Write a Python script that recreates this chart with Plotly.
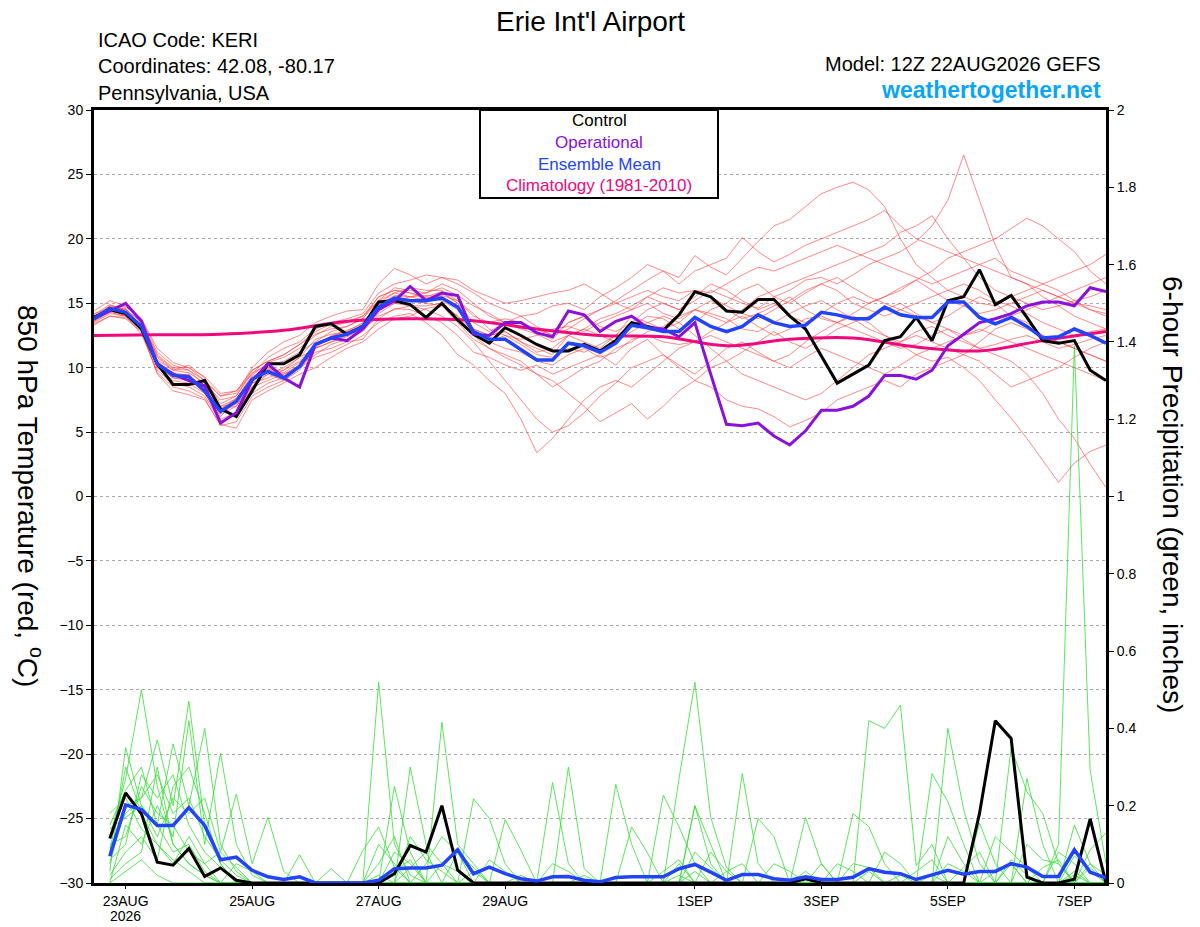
import pandas as pd
import plotly.graph_objects as go

# 6-hourly valid times: temperature from 12Z 22AUG, precip totals from 18Z 22AUG
t_times = pd.date_range("2026-08-22 12:00", "2026-09-07 12:00", freq="6h")
p_times = t_times[1:]
clim_times = pd.date_range("2026-08-22 12:00", "2026-09-07 12:00", freq="24h")

# 850 hPa temperature (C)
control_t = [13.9, 14.5, 14.2, 13.0, 10.3, 8.7, 8.7, 9.0, 6.8, 6.2,
             8.2, 10.3, 10.3, 11.0, 13.2, 13.4, 12.6, 13.2, 15.1, 15.2,
             14.9, 13.9, 15.0, 13.7, 12.6, 11.9, 13.1, 12.5, 11.8, 11.3,
             11.3, 11.8, 11.3, 12.1, 13.5, 13.2, 12.9, 14.1, 15.9, 15.5,
             14.4, 14.3, 15.3, 15.3, 14.0, 13.0, 10.9, 8.8, 9.5, 10.2,
             12.1, 12.4, 13.9, 12.1, 15.2, 15.5, 17.6, 14.9, 15.6, 13.9,
             12.1, 11.9, 12.1, 9.8, 9.0]
oper_t = [13.8, 14.4, 15.0, 13.6, 10.3, 9.5, 9.0, 8.6, 5.7, 6.5,
          9.0, 10.3, 9.2, 8.5, 11.8, 12.3, 12.1, 13.0, 14.5, 15.2,
          16.3, 15.2, 15.8, 15.6, 12.6, 12.5, 13.5, 13.5, 12.7, 12.4,
          14.4, 14.1, 12.8, 13.6, 14.0, 13.1, 13.0, 12.4, 13.5, 9.5,
          5.6, 5.5, 5.7, 4.7, 4.0, 5.1, 6.7, 6.7, 7.0, 7.8,
          9.4, 9.4, 9.1, 9.8, 11.7, 12.6, 13.5, 13.8, 14.2, 14.8,
          15.1, 15.1, 14.8, 16.2, 15.9]
mean_t = [13.8, 14.6, 14.3, 13.2, 10.3, 9.4, 9.3, 8.2, 6.6, 7.4,
          9.1, 9.7, 9.2, 10.1, 11.8, 12.3, 12.6, 13.2, 14.7, 15.4,
          15.2, 15.2, 15.4, 14.7, 12.8, 12.2, 12.2, 11.4, 10.6, 10.6,
          11.9, 11.7, 11.2, 11.9, 13.3, 13.1, 12.8, 12.8, 13.9, 13.2,
          12.8, 13.2, 14.1, 13.5, 13.2, 13.3, 14.3, 14.1, 13.8, 13.8,
          14.7, 14.1, 13.9, 13.9, 15.1, 15.1, 13.9, 13.4, 13.9, 13.2,
          12.3, 12.4, 13.0, 12.5, 11.9]
clim_t = [12.5, 12.55, 12.6, 12.9, 13.6, 13.8, 13.65, 13.0, 12.5,
          12.4, 11.7, 12.2, 12.3, 11.6, 11.3, 12.1, 12.8]

members_t = [
    [14.0, 14.8, 14.5, 13.5, 10.8, 9.8, 9.6, 8.8, 7.5, 7.8,
     9.8, 10.5, 11.0, 11.8, 12.6, 13.0, 13.2, 13.8, 15.5, 16.0,
     15.8, 15.5, 15.9, 15.0, 13.5, 12.8, 13.5, 14.0, 13.2, 12.5,
     13.0, 13.8, 14.5, 15.2, 16.0, 16.8, 17.5, 17.0, 18.7, 17.8,
     17.2, 18.5, 19.8, 21.0, 21.5, 22.5, 23.5, 24.0, 24.4, 23.8,
     22.5, 20.0, 18.0, 17.0, 16.0, 15.5, 15.0, 14.8, 15.5, 16.0,
     16.5, 16.0, 15.2, 14.5, 14.0],
    [13.6, 14.3, 14.0, 13.0, 10.0, 9.0, 8.8, 8.0, 6.0, 6.5,
     8.5, 9.5, 10.0, 10.8, 11.5, 12.0, 12.5, 13.0, 14.5, 15.2,
     15.5, 15.8, 16.2, 15.6, 14.8, 14.2, 13.5, 13.0, 12.6, 12.0,
     12.5, 13.0, 13.8, 14.2, 14.8, 15.5, 15.0, 14.5, 15.2, 16.0,
     15.5, 15.0, 14.6, 15.5, 16.0, 16.8, 17.0, 16.5, 17.2, 18.0,
     18.5, 19.0, 19.8, 21.0, 23.0, 26.5, 23.0, 19.5, 17.0, 16.5,
     15.5, 14.8, 14.0, 13.5, 13.0],
    [13.4, 14.0, 13.8, 12.8, 9.6, 8.5, 8.2, 7.6, 5.5, 5.8,
     7.8, 8.5, 9.0, 10.0, 10.8, 11.2, 11.8, 12.5, 13.5, 14.0,
     14.2, 13.5, 12.5, 11.0, 10.2, 9.0, 8.0, 6.0, 3.4, 4.5,
     6.0, 7.5, 8.5, 9.0, 8.5, 9.5, 10.5, 11.5, 12.0, 12.8,
     13.5, 14.0, 13.2, 12.5, 13.0, 13.8, 14.0, 13.5, 13.0, 12.5,
     12.0, 11.5, 11.8, 12.5, 13.0, 12.2, 11.5, 11.0, 10.5, 9.5,
     8.0, 6.0, 4.5, 2.5, 0.7],
    [14.2, 14.6, 14.2, 13.0, 10.2, 9.2, 9.0, 8.2, 6.8, 7.0,
     8.8, 9.2, 9.8, 10.5, 11.8, 12.2, 12.6, 13.0, 14.0, 14.5,
     14.8, 14.5, 14.0, 13.2, 12.0, 10.5, 9.0, 7.5, 6.0, 5.0,
     5.5, 6.5, 7.8, 8.8, 10.0, 10.5, 11.0, 10.2, 9.5, 10.5,
     11.5, 12.0, 11.2, 10.5, 11.0, 12.0, 12.8, 13.5, 14.0, 13.5,
     12.5, 11.8, 11.0, 10.5, 10.8, 10.0, 9.0, 7.5, 6.1, 4.5,
     2.8, 1.1, 2.6, 3.5, 4.0],
    [14.0, 14.5, 14.8, 13.8, 11.2, 10.2, 9.8, 9.0, 7.8, 8.2,
     9.5, 10.8, 11.5, 12.0, 13.0, 13.5, 13.8, 14.2, 15.8, 16.5,
     16.8, 17.2, 17.0, 16.5, 15.8, 15.0, 14.5, 14.0, 14.2, 14.8,
     15.0, 14.5, 15.5, 16.2, 17.0, 18.0, 17.5, 16.5, 17.5, 18.0,
     18.5, 20.1, 19.0, 18.2, 18.8, 19.5, 20.0, 20.5, 21.0, 21.5,
     22.2, 21.0, 20.0, 19.5, 19.0, 18.5, 18.0, 18.5, 17.5, 17.0,
     16.5, 17.0, 17.5, 18.0, 18.8],
    [13.8, 14.4, 14.2, 13.4, 10.5, 9.5, 9.2, 8.5, 7.0, 7.2,
     8.5, 9.0, 9.5, 10.2, 11.0, 11.8, 12.2, 12.8, 14.2, 15.0,
     15.2, 15.0, 14.8, 14.0, 12.5, 11.5, 11.0, 10.5, 9.5, 9.0,
     8.0, 7.0, 5.8, 6.5, 7.2, 6.0, 7.0, 8.2, 9.0, 10.0,
     10.5, 11.2, 12.0, 12.8, 12.0, 11.5, 12.2, 13.0, 13.5, 14.0,
     14.5, 15.0, 14.2, 13.5, 14.0, 14.8, 15.5, 15.0, 14.0, 13.5,
     12.5, 12.0, 11.5, 11.0, 10.5],
    [13.7, 14.5, 14.6, 13.2, 10.0, 9.4, 9.5, 8.0, 6.2, 7.5,
     9.2, 10.0, 9.5, 10.0, 11.5, 12.5, 12.8, 13.5, 15.0, 15.8,
     15.5, 15.2, 15.8, 15.0, 13.0, 12.5, 12.8, 12.0, 11.5, 11.0,
     12.5, 12.0, 11.5, 12.5, 14.0, 13.5, 13.0, 13.5, 14.5, 14.0,
     13.5, 14.5, 15.5, 16.0, 16.5, 17.0, 17.5, 18.0, 18.5, 19.0,
     19.5, 20.5, 21.0, 21.8, 20.0, 18.5, 17.0, 16.0, 15.5, 15.0,
     14.5, 14.8, 15.2, 15.5, 16.0],
    [14.1, 14.9, 14.4, 13.1, 10.6, 9.8, 10.2, 9.2, 7.2, 7.8,
     9.6, 10.2, 10.5, 11.2, 12.0, 12.8, 13.2, 13.8, 15.2, 16.2,
     16.0, 15.8, 16.5, 16.0, 15.0, 14.0, 13.5, 13.2, 12.8, 12.2,
     13.5, 14.0, 13.2, 12.8, 13.5, 14.5, 15.0, 14.5, 15.5, 16.5,
     16.0, 15.2, 14.5, 15.0, 14.0, 13.5, 14.2, 15.0, 15.5, 15.0,
     15.5, 16.0, 16.8, 17.5, 18.5, 19.0, 19.5, 20.0, 20.8, 21.6,
     21.0, 20.0, 19.0, 17.5, 16.5],
    [13.5, 14.2, 14.0, 12.6, 9.8, 8.8, 8.5, 7.8, 5.8, 6.4,
     8.0, 8.8, 9.2, 10.2, 11.2, 11.5, 12.0, 12.2, 13.8, 14.6,
     14.5, 14.0, 13.5, 12.5, 11.2, 10.8, 10.2, 9.8, 10.2, 9.5,
     10.0, 10.5, 11.0, 10.2, 11.5, 12.2, 11.0, 10.0, 9.0, 8.5,
     7.5, 7.0, 6.8, 6.2, 5.4, 5.9, 6.5, 7.5, 8.0, 8.5,
     9.0, 8.5, 9.5, 10.0, 10.5, 11.0, 10.5, 9.5, 8.5, 9.0,
     9.5, 10.0, 10.8, 11.5, 12.0],
    [13.9, 14.7, 14.3, 13.3, 10.4, 9.6, 9.0, 8.3, 6.5, 7.2,
     9.0, 9.8, 9.8, 10.8, 12.2, 12.6, 12.8, 13.2, 14.8, 15.5,
     15.2, 15.4, 15.2, 14.5, 12.5, 12.0, 12.5, 11.8, 11.0, 10.8,
     11.5, 11.2, 11.8, 12.5, 13.2, 14.0, 13.8, 13.0, 13.5, 14.5,
     15.0, 16.0, 16.5, 15.5, 15.0, 15.8, 16.5, 16.0, 15.0, 14.5,
     14.0, 14.5, 15.0, 15.5, 16.0, 16.5, 16.0, 15.2, 14.8, 14.2,
     13.5, 13.0, 12.5, 12.8, 13.0],
    [13.6, 14.4, 14.1, 13.0, 10.1, 9.2, 9.2, 8.0, 6.4, 7.0,
     8.8, 9.5, 9.0, 9.8, 11.5, 12.0, 12.4, 13.0, 14.5, 15.0,
     14.8, 14.8, 15.0, 14.0, 12.8, 12.0, 11.5, 11.2, 10.5, 10.2,
     11.0, 11.5, 10.8, 11.2, 12.2, 12.5, 12.0, 11.8, 12.0, 12.5,
     12.0, 11.5, 11.0, 10.5, 10.0, 10.8, 11.5, 11.0, 10.5, 10.0,
     9.5, 10.2, 11.0, 11.5, 12.0, 12.5, 13.0, 12.5, 12.0, 11.5,
     11.0, 10.5, 10.0, 9.5, 9.0],
    [14.4, 15.2, 14.8, 13.6, 11.0, 10.0, 10.0, 9.0, 7.8, 8.0,
     10.0, 11.2, 12.0, 12.5, 13.5, 14.0, 14.4, 14.5, 16.5, 17.7,
     17.2, 16.5, 17.0, 16.8, 16.0, 15.5, 15.0, 15.2, 15.5, 15.8,
     16.0, 16.5, 15.8, 15.0, 14.5, 15.5, 16.2, 15.8, 16.0, 15.5,
     14.8, 14.2, 13.8, 14.5, 15.2, 16.0, 16.5, 17.0, 16.2, 15.5,
     15.0, 14.5, 14.0, 13.5, 13.0, 12.5, 12.8, 13.5, 14.0, 14.5,
     15.0, 15.5, 16.0, 16.5, 17.0],
    [13.3, 14.0, 13.9, 12.9, 9.5, 8.2, 7.9, 7.5, 5.6, 5.3,
     7.5, 8.2, 8.8, 9.5, 10.0, 10.8, 11.5, 12.0, 13.0, 13.8,
     14.0, 14.6, 14.8, 13.5, 12.2, 11.5, 10.8, 10.2, 9.5, 8.5,
     9.2, 10.0, 10.5, 11.5, 12.0, 12.8, 13.2, 14.0, 14.5, 14.2,
     13.8, 13.0, 12.8, 13.5, 14.2, 14.8, 15.2, 14.5, 13.8, 13.0,
     12.5, 12.0, 12.8, 13.2, 12.5, 12.0, 11.5, 11.8, 12.2, 12.5,
     12.0, 11.5, 11.8, 12.2, 12.5],
    [13.9, 14.6, 14.5, 13.6, 10.9, 9.9, 9.8, 8.6, 7.0, 7.6,
     9.4, 10.4, 10.8, 11.5, 12.5, 13.2, 13.5, 14.0, 15.2, 15.8,
     16.2, 16.0, 16.0, 15.2, 14.0, 13.5, 13.8, 13.5, 13.0, 12.5,
     13.5, 14.0, 14.5, 15.0, 15.5, 16.0, 15.5, 15.2, 16.0, 15.8,
     16.5, 17.2, 17.8, 17.5, 18.0, 18.5, 19.0, 19.5, 19.0, 18.5,
     18.0, 17.5, 17.0, 16.5, 17.0, 17.5, 18.0, 17.5, 17.0, 16.5,
     16.0, 15.5, 15.0, 14.8, 14.5],
    [14.0, 14.5, 14.0, 13.2, 10.3, 9.6, 9.4, 8.4, 6.8, 7.6,
     9.3, 9.9, 9.6, 10.4, 11.7, 12.4, 12.9, 13.4, 14.9, 15.6,
     15.5, 15.6, 15.5, 14.8, 13.0, 12.5, 12.8, 12.0, 11.2, 11.5,
     12.5, 13.0, 12.5, 12.0, 12.8, 13.5, 14.0, 13.5, 12.5, 11.5,
     10.5, 9.5, 9.0, 8.5, 8.0, 7.5, 8.0, 9.0, 10.0, 11.0,
     11.5, 12.0, 12.5, 12.0, 11.5, 11.0, 12.0, 13.0, 13.5, 13.0,
     12.5, 12.0, 11.5, 11.0, 10.5],
    [13.8, 14.8, 14.7, 13.8, 11.5, 10.4, 10.0, 9.3, 8.0, 8.2,
     9.8, 10.5, 11.0, 11.8, 12.8, 13.4, 13.6, 14.0, 15.5, 16.0,
     15.8, 15.4, 15.6, 15.2, 14.2, 13.0, 12.5, 12.2, 12.5, 13.0,
     13.2, 12.8, 13.5, 14.0, 14.5, 15.0, 14.2, 13.8, 14.5, 15.2,
     14.5, 13.8, 14.2, 14.8, 15.5, 14.5, 13.8, 13.5, 14.2, 15.0,
     15.5, 16.2, 16.8, 16.0, 15.2, 14.8, 14.2, 14.5, 15.0, 15.5,
     16.0, 15.5, 15.0, 14.5, 14.2],
]

# 6-hour precipitation (inches)
control_p = [0.115, 0.233, 0.179, 0.054, 0.046, 0.089, 0.017, 0.039, 0.007, 0,
             0, 0, 0, 0, 0, 0, 0, 0, 0.024, 0.097,
             0.080, 0.200, 0.033, 0, 0, 0, 0, 0, 0, 0,
             0, 0, 0, 0, 0, 0, 0, 0, 0, 0,
             0, 0, 0, 0, 0.011, 0, 0, 0, 0, 0,
             0, 0, 0, 0, 0, 0.18, 0.42, 0.374, 0.015, 0,
             0, 0.01, 0.166, 0]
mean_p = [0.069, 0.202, 0.190, 0.149, 0.149, 0.195, 0.149, 0.060, 0.067, 0.033,
          0.016, 0.009, 0.016, 0, 0, 0, 0, 0.007, 0.037, 0.039,
          0.039, 0.046, 0.086, 0.024, 0.041, 0.024, 0.011, 0.005, 0.016, 0.017,
          0.007, 0.003, 0.014, 0.016, 0.016, 0.016, 0.037, 0.048, 0.028, 0.007,
          0.022, 0.022, 0.011, 0.007, 0.016, 0.009, 0.009, 0.015, 0.037, 0.028,
          0.024, 0.009, 0.021, 0.033, 0.023, 0.030, 0.030, 0.050, 0.041, 0.017,
          0.017, 0.086, 0.028, 0.013]

members_p = [
    [0.12, 0.27, 0.50, 0.25, 0.10, 0.05, 0.02, 0, 0, 0, 0, 0, 0, 0, 0, 0,
     0, 0.10, 0.05, 0, 0, 0, 0, 0, 0, 0, 0, 0, 0.26, 0.05, 0, 0,
     0, 0, 0, 0, 0, 0.20, 0.05, 0, 0, 0, 0, 0, 0, 0, 0, 0,
     0.42, 0.40, 0.46, 0.045, 0.10, 0, 0, 0, 0, 0.05, 0, 0, 0, 0.15, 0.05, 0],
    [0.05, 0.20, 0.22, 0.37, 0.20, 0.47, 0.15, 0.05, 0, 0, 0, 0, 0, 0, 0, 0,
     0, 0.52, 0.10, 0.02, 0, 0, 0, 0, 0, 0, 0, 0, 0, 0, 0, 0,
     0, 0, 0, 0, 0.27, 0.52, 0.17, 0.04, 0, 0, 0, 0, 0, 0, 0, 0,
     0, 0, 0, 0, 0.283, 0.21, 0.10, 0, 0, 0, 0, 0, 0.10, 1.39, 0.29, 0.05],
    [0.15, 0.24, 0.30, 0.15, 0.36, 0.20, 0.40, 0.10, 0.03, 0, 0, 0, 0, 0, 0, 0,
     0, 0, 0, 0.30, 0.10, 0.05, 0, 0, 0, 0, 0, 0, 0, 0, 0, 0,
     0.255, 0.10, 0, 0, 0, 0, 0, 0, 0, 0, 0, 0, 0.17, 0.05, 0, 0,
     0, 0, 0, 0, 0, 0.40, 0.19, 0.05, 0, 0, 0, 0, 0, 0, 0.086, 0.13],
    [0, 0.15, 0.10, 0.20, 0.12, 0.42, 0.10, 0.336, 0.10, 0.02, 0, 0, 0, 0, 0, 0,
     0, 0, 0, 0, 0, 0.416, 0.10, 0.05, 0, 0, 0, 0, 0, 0.30, 0.037, 0,
     0, 0, 0, 0, 0, 0, 0, 0, 0.283, 0.05, 0, 0, 0, 0, 0, 0.18,
     0.146, 0.05, 0, 0, 0, 0, 0, 0, 0, 0, 0.27, 0.10, 0, 0, 0, 0],
    [0.08, 0.30, 0.18, 0.10, 0.05, 0.12, 0.05, 0.08, 0.23, 0.05, 0.17, 0.03, 0, 0, 0, 0,
     0, 0, 0.25, 0.08, 0, 0, 0, 0.218, 0.167, 0.05, 0, 0, 0, 0, 0, 0,
     0, 0, 0, 0.227, 0.145, 0.05, 0, 0, 0, 0, 0, 0, 0, 0, 0, 0,
     0, 0, 0, 0, 0, 0, 0, 0, 0, 0.35, 0.236, 0.18, 0.05, 0, 0, 0],
    [0.10, 0.12, 0.25, 0.18, 0.15, 0.08, 0.05, 0, 0, 0, 0, 0, 0.073, 0, 0, 0,
     0, 0, 0, 0, 0.05, 0.12, 0.08, 0, 0, 0.164, 0.085, 0, 0, 0, 0, 0,
     0, 0, 0, 0, 0, 0.20, 0.10, 0, 0, 0.167, 0.12, 0, 0, 0, 0, 0,
     0, 0, 0, 0, 0, 0, 0, 0.155, 0.05, 0, 0, 0, 0, 0.07, 0.03, 0],
    [0.02, 0.08, 0.12, 0.06, 0.25, 0.30, 0.18, 0.05, 0, 0, 0, 0, 0, 0, 0, 0,
     0.084, 0.145, 0.04, 0, 0, 0, 0, 0, 0, 0, 0, 0, 0, 0, 0, 0,
     0, 0.145, 0.078, 0, 0, 0, 0, 0, 0, 0, 0, 0, 0, 0, 0.05, 0.03,
     0, 0, 0, 0, 0, 0.12, 0.05, 0, 0, 0, 0, 0, 0.08, 0.05, 0, 0],
    [0.18, 0.22, 0.14, 0.10, 0.06, 0.03, 0, 0, 0, 0, 0, 0, 0, 0, 0.037, 0,
     0, 0, 0, 0.12, 0.06, 0.03, 0, 0, 0, 0, 0, 0, 0.05, 0.03, 0, 0,
     0, 0, 0, 0, 0, 0, 0.08, 0.03, 0, 0, 0, 0, 0, 0, 0, 0,
     0, 0.08, 0.05, 0, 0, 0, 0, 0, 0.12, 0.08, 0.04, 0, 0, 0, 0.05, 0.02],
    [0.06, 0.10, 0.28, 0.22, 0.28, 0.15, 0.08, 0.04, 0, 0, 0, 0, 0, 0, 0, 0,
     0, 0, 0.08, 0.05, 0, 0, 0.08, 0.04, 0, 0, 0, 0, 0, 0, 0, 0,
     0, 0, 0, 0, 0.05, 0, 0, 0, 0, 0, 0.05, 0.03, 0, 0, 0, 0,
     0, 0, 0, 0.03, 0.06, 0, 0, 0, 0, 0, 0.10, 0.06, 0.05, 0, 0, 0],
    [0.03, 0.35, 0.20, 0.15, 0.08, 0.10, 0.03, 0, 0, 0, 0, 0, 0, 0, 0, 0,
     0, 0.05, 0.12, 0, 0, 0, 0, 0, 0.06, 0.03, 0, 0, 0, 0, 0, 0,
     0, 0, 0, 0, 0, 0.08, 0.04, 0, 0, 0, 0, 0, 0, 0.05, 0, 0,
     0, 0, 0, 0, 0, 0, 0.04, 0.08, 0, 0, 0, 0, 0, 0.03, 0, 0],
    [0.09, 0.18, 0.22, 0.28, 0.18, 0.22, 0.12, 0.06, 0.02, 0, 0, 0, 0, 0, 0, 0,
     0, 0, 0, 0.04, 0.08, 0, 0, 0, 0, 0, 0, 0, 0, 0, 0, 0,
     0, 0, 0, 0.03, 0.06, 0, 0, 0, 0, 0, 0, 0, 0, 0, 0, 0,
     0.03, 0, 0, 0, 0, 0.05, 0.03, 0, 0, 0, 0, 0.04, 0.06, 0, 0, 0],
    [0.01, 0.05, 0.08, 0.30, 0.10, 0.05, 0.02, 0, 0, 0, 0, 0, 0, 0, 0, 0,
     0, 0, 0, 0, 0, 0.05, 0.03, 0, 0, 0, 0, 0, 0, 0, 0.02, 0,
     0, 0, 0, 0, 0, 0, 0, 0.03, 0.05, 0, 0, 0, 0, 0, 0, 0,
     0, 0, 0.02, 0, 0, 0, 0, 0, 0, 0.06, 0.02, 0, 0, 0, 0, 0],
    [0.14, 0.17, 0.20, 0.12, 0.22, 0.18, 0.22, 0.08, 0.04, 0, 0, 0, 0, 0, 0, 0,
     0, 0, 0.03, 0.06, 0, 0, 0, 0.03, 0, 0, 0, 0, 0, 0, 0, 0,
     0, 0, 0, 0, 0, 0.03, 0, 0, 0, 0, 0, 0, 0, 0, 0, 0.05,
     0.04, 0, 0, 0, 0, 0, 0, 0, 0.03, 0.05, 0, 0, 0, 0, 0.04, 0],
    [0, 0.03, 0.06, 0.02, 0, 0, 0, 0, 0.05, 0.03, 0, 0, 0, 0, 0, 0,
     0, 0.02, 0, 0, 0, 0, 0, 0, 0, 0, 0.02, 0, 0, 0, 0, 0,
     0, 0, 0, 0, 0.02, 0, 0, 0, 0, 0, 0, 0, 0.03, 0, 0, 0,
     0, 0, 0, 0, 0.02, 0, 0, 0, 0, 0, 0, 0, 0, 0.02, 0, 0],
]

tick_dates = ["2026-08-23", "2026-08-25", "2026-08-27", "2026-08-29",
              "2026-09-01", "2026-09-03", "2026-09-05", "2026-09-07"]
tick_text = ["23AUG", "25AUG", "27AUG", "29AUG",
             "1SEP", "3SEP", "5SEP", "7SEP"]
year_label = "2026"

FONT = "Liberation Sans, Arial, sans-serif"
RED = "#ff3a3a"
GREEN = "#33dd33"
BLACK = "#000000"
PURPLE = "#8a10dc"
BLUE = "#2244ff"
MAGENTA = "#f0087c"

# plot box in page pixels (the page body has an 8px margin)
PX0, PX1, PY0, PY1 = 94, 1106, 110, 883


def px(x):
    return (x - PX0) / (PX1 - PX0)


def py(y):
    return 1 - (y - PY0) / (PY1 - PY0)


fig = go.Figure()

for m in members_t:
    fig.add_trace(go.Scatter(x=t_times, y=m, mode="lines",
                             line=dict(color=RED, width=0.7),
                             opacity=0.85, hoverinfo="skip"))
for m in members_p:
    fig.add_trace(go.Scatter(x=p_times, y=m, mode="lines", yaxis="y2",
                             line=dict(color=GREEN, width=0.8),
                             hoverinfo="skip"))

fig.add_trace(go.Scatter(x=p_times, y=control_p, mode="lines", yaxis="y2",
                         line=dict(color=BLACK, width=3)))
fig.add_trace(go.Scatter(x=p_times, y=mean_p, mode="lines", yaxis="y2",
                         line=dict(color=BLUE, width=3.5)))

fig.add_trace(go.Scatter(x=clim_times, y=clim_t, mode="lines",
                         line=dict(color=MAGENTA, width=3, shape="spline")))
fig.add_trace(go.Scatter(x=t_times, y=control_t, mode="lines",
                         line=dict(color=BLACK, width=3)))
fig.add_trace(go.Scatter(x=t_times, y=oper_t, mode="lines",
                         line=dict(color=PURPLE, width=3)))
fig.add_trace(go.Scatter(x=t_times, y=mean_t, mode="lines",
                         line=dict(color=BLUE, width=3.5)))

# legend box
fig.add_shape(type="rect", xref="paper", yref="paper",
              x0=px(480), x1=px(718), y0=py(198), y1=py(110),
              line=dict(color="black", width=2), fillcolor="white", layer="above")
legend_items = [("Control", BLACK), ("Operational", PURPLE),
                ("Ensemble Mean", BLUE), ("Climatology (1981-2010)", MAGENTA)]
for k, (txt, col) in enumerate(legend_items):
    fig.add_annotation(text=txt, xref="paper", yref="paper", x=px(599),
                       y=py(121 + k * 21.5), xanchor="center", yanchor="middle",
                       showarrow=False, font=dict(family=FONT, size=17, color=col))

# header texts
fig.add_annotation(text="Erie Int'l Airport", xref="paper", yref="paper",
                   x=px(590), y=py(21), xanchor="center", yanchor="middle",
                   showarrow=False, font=dict(family=FONT, size=28, color="black"))
for k, txt in enumerate(["ICAO Code: KERI", "Coordinates: 42.08, -80.17",
                         "Pennsylvania, USA"]):
    fig.add_annotation(text=txt, xref="paper", yref="paper", x=px(96),
                       y=py(40 + k * 26.5), xanchor="left", yanchor="middle",
                       showarrow=False, font=dict(family=FONT, size=20, color="black"))
fig.add_annotation(text="Model: 12Z 22AUG2026 GEFS", xref="paper", yref="paper",
                   x=px(1103), y=py(64), xanchor="right", yanchor="middle",
                   showarrow=False, font=dict(family=FONT, size=20, color="black"))
fig.add_annotation(text="<b>weathertogether.net</b>", xref="paper", yref="paper",
                   x=px(1103), y=py(90), xanchor="right", yanchor="middle",
                   showarrow=False, font=dict(family=FONT, size=23, color="#0aa5f5"))

# year under the first date tick
fig.add_annotation(text=year_label, xref="x", yref="paper", x=tick_dates[0],
                   y=py(916), xanchor="center", yanchor="middle", showarrow=False,
                   font=dict(family=FONT, size=14, color="black"))

# axis titles
fig.add_annotation(text="850 hPa Temperature (red, <sup>o</sup>C)", xref="paper",
                   yref="paper", x=px(30), y=py(496), textangle=90,
                   xanchor="center", yanchor="middle", showarrow=False,
                   font=dict(family=FONT, size=28, color="black"))
fig.add_annotation(text="6-hour Precipitation (green, inches)", xref="paper",
                   yref="paper", x=px(1172), y=py(494), textangle=90,
                   xanchor="center", yanchor="middle", showarrow=False,
                   font=dict(family=FONT, size=28, color="black"))

fig.update_layout(
    width=1192, height=919,
    margin=dict(l=PX0 - 8, r=1200 - PX1, t=PY0 - 8, b=927 - PY1),
    plot_bgcolor="white", paper_bgcolor="white",
    showlegend=False,
    font=dict(family=FONT, size=14, color="black"),
    xaxis=dict(
        type="date", automargin=False,
        range=["2026-08-22 12:00", "2026-09-07 12:00"],
        tickvals=tick_dates, ticktext=tick_text,
        ticks="outside", ticklen=3, tickcolor="black",
        showgrid=False, zeroline=False,
        showline=True, linecolor="black", linewidth=3, mirror=True,
        tickfont=dict(family=FONT, size=14),
    ),
    yaxis=dict(
        range=[-30, 30], tickvals=list(range(-30, 31, 5)), automargin=False,
        ticks="outside", ticklen=5, tickcolor="black",
        showgrid=True, gridcolor="#aaaaaa", griddash="dot", gridwidth=1,
        zeroline=False,
        showline=True, linecolor="black", linewidth=3, mirror=True,
        tickfont=dict(family=FONT, size=14),
    ),
    yaxis2=dict(
        range=[0, 2], tickvals=[0, 0.2, 0.4, 0.6, 0.8, 1.0, 1.2, 1.4, 1.6, 1.8, 2.0],
        ticktext=["0", "0.2", "0.4", "0.6", "0.8", "1", "1.2", "1.4", "1.6", "1.8", "2"],
        overlaying="y", side="right", automargin=False,
        ticks="outside", ticklen=5, tickcolor="black",
        showgrid=False, zeroline=False,
        showline=True, linecolor="black", linewidth=3,
        tickfont=dict(family=FONT, size=14),
    ),
)

fig.write_html("out.html")
